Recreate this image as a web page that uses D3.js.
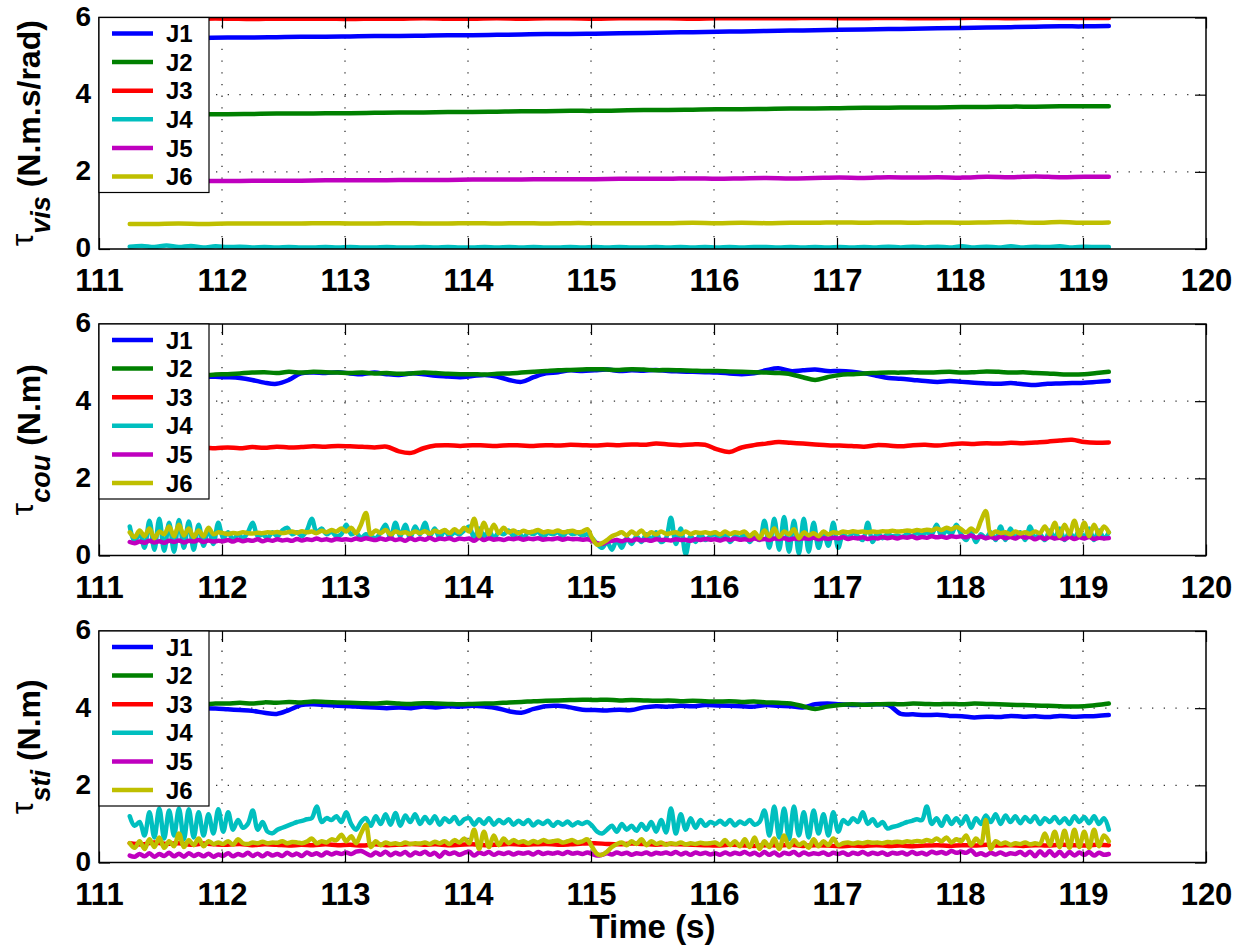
<!DOCTYPE html>
<html lang="en">
<head>
<meta charset="UTF-8">
<title>Friction parameters J1-J6</title>
<script src="https://cdn.jsdelivr.net/npm/d3@7"></script>
<style>
  body { margin: 0; background: #fff; }
  svg { display: block; font-family: "Liberation Sans", Arial, Helvetica, sans-serif; }
  .tick text { font-weight: bold; fill: #000; }
  .tick line { stroke: #000; stroke-width: 1.2px; }
  .line { fill: none; stroke-width: 4.5px; stroke-linejoin: round; stroke-linecap: round; }
  .grid { stroke: #333; stroke-width: 1.3px; stroke-dasharray: 1.3,10.4; }
</style>
</head>
<body>
<svg id="chart" width="1256" height="949"></svg>
<script>
// samples run evenly from tStart to tEnd
const tStart = 111.25, tEnd = 119.21;
const xTicks = [111, 112, 113, 114, 115, 116, 117, 118, 119, 120];
const yTicks = [0, 2, 4, 6];
const joints = ["J1", "J2", "J3", "J4", "J5", "J6"];
const colors = ["#0000ff", "#008000", "#ff0000", "#00bfbf", "#bf00bf", "#bfbf00"];

// ---- viscous friction (N.m.s/rad)
const visJ1 = [5.45,5.46,5.46,5.47,5.48,5.48,5.49,5.50,5.50,5.51,5.52,5.52,5.53,5.54,5.54,5.55,5.56,5.57,5.57,5.58,5.59,5.60,5.61,5.62,5.63,5.64,5.65,5.66,5.67,5.68,5.69,5.70,5.71,5.72,5.73,5.74,5.75,5.76,5.77,5.77,5.78];
const visJ2 = [3.47,3.48,3.48,3.49,3.49,3.50,3.51,3.51,3.52,3.52,3.53,3.54,3.54,3.55,3.55,3.56,3.57,3.57,3.58,3.58,3.59,3.60,3.60,3.61,3.62,3.62,3.63,3.64,3.64,3.65,3.66,3.66,3.67,3.67,3.68,3.68,3.69,3.69,3.70,3.70,3.70];
const visJ3 = [5.96,5.97,5.96,5.97,5.97,5.96,5.97,5.97,5.97,5.96,5.97,5.97,5.98,5.97,5.97,5.98,5.97,5.98,5.98,5.97,5.98,5.98,5.98,5.97,5.98,5.98,5.98,5.98,5.99,5.98,5.98,5.99,5.98,5.98,5.99,5.99,5.98,5.99,5.99,5.99,5.99];
const visJ4 = [0.06,0.08,0.05,0.09,0.05,0.08,0.04,0.07,0.05,0.06,0.04,0.05,0.04,0.05,0.04,0.04,0.05,0.04,0.05,0.04,
  0.04,0.05,0.04,0.04,0.05,0.04,0.05,0.04,0.04,0.05,0.04,0.05,0.04,0.05,0.04,0.04,0.05,0.04,0.05,0.04,
  0.05,0.04,0.04,0.05,0.04,0.05,0.04,0.05,0.04,0.05,0.04,0.05,0.05,0.04,0.05,0.04,0.05,0.04,0.05,0.04,
  0.05,0.04,0.06,0.04,0.06,0.04,0.06,0.04,0.07,0.04,0.06,0.04,0.07,0.04,0.06,0.05,0.07,0.04,0.06,0.05,0.05];
const visJ5 = [1.75,1.76,1.75,1.76,1.76,1.77,1.77,1.77,1.78,1.78,1.78,1.79,1.79,1.79,1.80,1.80,1.80,1.81,1.81,1.81,1.82,1.82,1.82,1.83,1.82,1.83,1.84,1.83,1.84,1.85,1.84,1.86,1.85,1.86,1.85,1.87,1.86,1.88,1.86,1.87,1.87];
const visJ6 = [0.65,0.65,0.66,0.65,0.66,0.66,0.66,0.66,0.67,0.66,0.66,0.67,0.66,0.66,0.67,0.66,0.67,0.66,0.67,0.67,0.67,0.67,0.67,0.68,0.67,0.68,0.67,0.68,0.68,0.69,0.68,0.69,0.68,0.69,0.68,0.69,0.70,0.68,0.70,0.68,0.69];

// ---- coulomb friction (N.m)
const couJ1 = [4.65,4.66,4.64,4.65,4.63,4.62,4.64,4.63,
  4.62,4.60,4.55,4.48,4.45,4.55,4.72,4.74,4.73,4.75,
  4.72,4.70,4.74,4.70,4.68,4.72,4.70,4.66,4.64,4.62,
  4.65,4.68,4.64,4.55,4.50,4.62,4.72,4.75,4.80,4.78,
  4.80,4.82,4.78,4.80,4.79,4.81,4.78,4.77,4.76,4.75,
  4.74,4.72,4.70,4.72,4.80,4.85,4.78,4.80,4.82,4.78,
  4.78,4.76,4.72,4.66,4.60,4.58,4.55,4.52,4.50,4.52,
  4.50,4.48,4.46,4.45,4.47,4.44,4.42,4.45,4.46,4.47,
  4.48,4.50,4.52];
const couJ2 = [4.62,4.64,4.65,4.66,4.66,4.68,4.67,4.69,
  4.70,4.72,4.74,4.75,4.73,4.76,4.74,4.76,4.75,4.74,
  4.73,4.74,4.72,4.73,4.71,4.72,4.74,4.73,4.71,4.70,
  4.70,4.69,4.71,4.72,4.74,4.76,4.78,4.80,4.81,4.82,
  4.83,4.82,4.81,4.83,4.82,4.80,4.81,4.80,4.79,4.78,
  4.78,4.77,4.76,4.75,4.74,4.73,4.70,4.62,4.55,4.62,
  4.68,4.70,4.72,4.73,4.74,4.74,4.75,4.74,4.75,4.76,
  4.74,4.75,4.77,4.76,4.74,4.75,4.73,4.72,4.70,4.69,
  4.70,4.73,4.76];
const couJ3 = [2.72,2.75,2.77,2.76,2.78,2.76,2.79,2.78,
  2.80,2.78,2.81,2.79,2.82,2.80,2.81,2.83,2.82,2.84,
  2.83,2.82,2.80,2.82,2.70,2.66,2.78,2.85,2.86,2.84,
  2.86,2.85,2.84,2.86,2.85,2.84,2.86,2.85,2.87,2.86,
  2.85,2.87,2.86,2.88,2.87,2.90,2.88,2.86,2.88,2.87,
  2.75,2.68,2.80,2.86,2.90,2.94,2.92,2.90,2.88,2.86,
  2.85,2.84,2.82,2.86,2.85,2.83,2.86,2.87,2.85,2.88,
  2.90,2.89,2.91,2.90,2.92,2.91,2.93,2.95,2.98,3.00,
  2.94,2.92,2.93];
const couJ4 = [0.75,0.35,0.60,0.20,0.90,0.15,0.95,0.12,0.85,0.10,0.92,0.20,0.88,0.15,0.80,0.25,0.70,0.30,0.85,
  0.45,0.60,0.40,0.55,0.45,0.60,0.85,0.50,0.55,0.45,0.60,0.50,0.65,0.72,0.55,0.60,0.50,0.65,0.95,0.60,0.70,0.55,0.62,0.50,0.55,
  0.80,0.55,0.60,0.45,0.55,0.50,0.45,0.60,0.80,0.45,0.85,0.50,0.80,0.45,0.75,0.55,0.85,0.50,0.70,0.45,0.65,0.50,0.60,0.55,0.65,
  0.75,0.45,0.70,0.50,0.65,0.45,0.60,0.55,0.65,0.50,0.60,0.45,0.60,0.55,0.62,0.48,0.58,0.55,0.60,0.50,0.62,0.55,0.58,0.52,0.55,
  0.45,0.30,0.20,0.35,0.15,0.40,0.20,0.45,0.30,0.50,0.35,0.55,0.40,0.60,0.35,0.45,0.98,0.30,0.70,0.03,0.50,0.35,0.55,0.40,0.50,
  0.55,0.40,0.60,0.35,0.50,0.45,0.55,0.35,0.50,0.40,0.90,0.20,0.95,0.15,1.00,0.10,0.90,0.05,0.95,0.10,0.85,0.20,0.60,0.25,0.85,
  0.20,0.55,0.45,0.60,0.50,0.40,0.85,0.35,0.60,0.45,0.55,0.50,0.52,0.48,0.55,0.50,0.58,0.52,0.60,0.55,0.80,0.50,0.65,0.55,0.80,
  0.55,0.40,0.60,0.35,0.55,0.45,0.60,0.40,0.75,0.40,0.70,0.45,0.60,0.40,0.75,0.45,0.55,0.40,0.65,0.45,0.70,0.40,0.60,0.45,0.65,
  0.45,0.70,0.40,0.65,0.45,0.60];
const couJ5 = [0.35,0.32,0.36,0.33,0.38,0.34,0.37,0.33,0.38,0.35,0.39,0.34,0.38,0.36,0.40,0.35,0.39,0.36,0.38,
  0.37,0.40,0.36,0.41,0.37,0.40,0.38,0.42,0.37,0.41,0.38,0.42,0.39,0.41,0.38,0.43,0.39,0.42,0.40,0.44,0.40,0.42,0.39,0.43,0.41,
  0.42,0.40,0.44,0.41,0.45,0.42,0.40,0.44,0.41,0.45,0.40,0.43,0.38,0.45,0.40,0.44,0.41,0.46,0.40,0.44,0.42,0.45,0.40,0.44,0.42,
  0.44,0.38,0.46,0.40,0.45,0.41,0.43,0.40,0.44,0.42,0.45,0.41,0.44,0.42,0.45,0.41,0.43,0.42,0.45,0.41,0.44,0.42,0.43,0.41,0.42,
  0.38,0.32,0.30,0.35,0.38,0.40,0.37,0.41,0.38,0.42,0.39,0.41,0.38,0.42,0.40,0.41,0.39,0.42,0.40,0.41,0.38,0.42,0.40,0.43,0.41,
  0.42,0.39,0.43,0.40,0.44,0.41,0.42,0.40,0.44,0.41,0.43,0.40,0.44,0.42,0.45,0.41,0.44,0.42,0.45,0.43,0.46,0.42,0.45,0.43,0.46,
  0.44,0.47,0.43,0.46,0.44,0.47,0.43,0.46,0.44,0.48,0.45,0.47,0.44,0.48,0.46,0.49,0.45,0.48,0.46,0.50,0.47,0.49,0.46,0.50,0.48,
  0.50,0.47,0.52,0.46,0.49,0.45,0.48,0.44,0.49,0.45,0.48,0.44,0.50,0.46,0.48,0.42,0.47,0.43,0.48,0.44,0.46,0.42,0.48,0.43,0.47,
  0.44,0.48,0.43,0.46,0.44,0.45];
const couJ6 = [0.60,0.48,0.65,0.50,0.70,0.45,0.62,0.55,0.75,0.50,0.80,0.52,0.70,0.48,0.65,0.50,0.72,0.55,0.60,
  0.58,0.56,0.58,0.57,0.60,0.58,0.57,0.59,0.58,0.60,0.59,0.61,0.58,0.60,0.62,0.59,0.63,0.60,0.62,0.58,0.64,0.60,0.66,0.62,0.70,
  0.62,0.72,0.58,0.80,1.10,0.55,0.65,0.58,0.66,0.55,0.62,0.58,0.60,0.56,0.62,0.58,0.63,0.57,0.64,0.60,0.66,0.58,0.68,0.60,0.72,
  0.62,0.95,0.50,0.85,0.55,0.80,0.58,0.72,0.60,0.65,0.58,0.64,0.60,0.62,0.66,0.60,0.63,0.61,0.65,0.60,0.62,0.64,0.60,0.62,0.68,
  0.45,0.28,0.32,0.40,0.50,0.55,0.60,0.52,0.62,0.55,0.65,0.52,0.60,0.55,0.62,0.56,0.58,0.60,0.55,0.62,0.56,0.60,0.58,0.60,0.57,
  0.60,0.55,0.62,0.56,0.60,0.58,0.62,0.50,0.60,0.45,0.65,0.50,0.70,0.48,0.62,0.55,0.68,0.45,0.60,0.52,0.58,0.50,0.62,0.55,0.60,
  0.58,0.62,0.60,0.63,0.61,0.62,0.60,0.62,0.61,0.63,0.62,0.64,0.62,0.63,0.65,0.63,0.66,0.64,0.67,0.65,0.70,0.66,0.72,0.68,0.74,
  0.68,0.60,0.70,0.62,0.90,1.15,0.55,0.62,0.58,0.60,0.55,0.62,0.57,0.60,0.56,0.62,0.58,0.75,0.55,0.85,0.50,0.80,0.55,0.90,0.52,
  0.85,0.50,0.80,0.55,0.75,0.60];

// ---- stiction (N.m)
const stiJ1 = [4.02,4.00,4.01,3.99,4.00,3.98,4.00,3.99,
  3.97,3.95,3.93,3.88,3.85,3.95,4.08,4.10,4.08,4.06,
  4.05,4.03,4.02,4.00,4.02,4.00,4.04,4.02,4.05,4.04,
  4.06,4.04,4.00,3.92,3.88,3.98,4.05,4.06,4.02,3.96,
  3.95,3.94,3.96,3.95,4.02,4.05,4.04,4.06,4.05,4.08,
  4.07,4.06,4.05,4.04,4.08,4.06,4.05,4.02,4.10,4.12,
  4.10,4.08,4.09,4.10,4.08,3.85,3.84,3.82,3.83,3.80,
  3.79,3.76,3.78,3.77,3.80,3.78,3.79,3.77,3.80,3.78,
  3.79,3.80,3.82];
const stiJ2 = [4.05,4.06,4.08,4.10,4.08,4.11,4.10,4.12,
  4.12,4.14,4.12,4.15,4.14,4.16,4.15,4.17,4.16,4.15,
  4.14,4.13,4.12,4.14,4.12,4.11,4.13,4.12,4.11,4.10,
  4.11,4.12,4.13,4.15,4.16,4.18,4.19,4.20,4.21,4.22,
  4.21,4.22,4.20,4.21,4.20,4.19,4.20,4.18,4.19,4.18,
  4.17,4.18,4.16,4.17,4.15,4.14,4.12,4.05,3.98,4.04,
  4.08,4.10,4.09,4.10,4.11,4.10,4.12,4.11,4.10,4.11,
  4.10,4.12,4.11,4.10,4.09,4.08,4.07,4.06,4.05,4.04,
  4.05,4.08,4.12];
const stiJ3 = [0.50,0.47,0.52,0.48,0.50,0.46,0.49,0.47,
  0.46,0.48,0.45,0.47,0.46,0.44,0.46,0.45,0.47,0.45,
  0.46,0.44,0.47,0.45,0.46,0.48,0.46,0.47,0.45,0.46,
  0.47,0.45,0.46,0.48,0.46,0.47,0.48,0.46,0.47,0.49,
  0.50,0.48,0.47,0.49,0.48,0.46,0.48,0.47,0.46,0.45,
  0.44,0.46,0.45,0.43,0.45,0.44,0.46,0.43,0.45,0.44,
  0.42,0.44,0.43,0.45,0.43,0.44,0.42,0.44,0.45,0.43,
  0.45,0.44,0.46,0.44,0.45,0.43,0.45,0.44,0.46,0.45,
  0.44,0.46,0.45];
const stiJ4 = [1.20,0.95,1.05,0.70,1.30,0.65,1.40,0.62,1.35,0.70,1.40,0.60,1.38,0.65,1.30,0.70,1.25,0.75,1.38,
  0.80,1.30,0.85,1.10,0.90,1.00,1.35,0.85,1.05,0.80,0.76,0.85,0.90,0.95,1.00,1.05,1.08,1.12,1.15,1.45,1.05,1.15,1.10,1.20,1.05,
  1.30,1.00,0.85,1.05,1.15,0.95,1.20,1.00,1.25,0.98,1.28,0.95,1.22,1.05,1.25,1.00,1.18,1.02,1.20,0.98,1.15,1.05,1.18,1.00,1.12,
  1.15,0.98,1.12,1.00,1.15,0.98,1.10,1.02,1.12,0.98,1.08,1.00,1.10,0.96,1.06,1.00,1.08,0.95,1.05,0.98,1.06,0.96,1.04,1.00,1.05,
  0.95,0.80,0.75,0.85,0.95,0.80,1.00,0.85,0.95,0.82,1.00,0.85,1.05,0.80,1.10,0.78,1.40,0.75,1.25,0.85,1.15,0.90,1.10,0.95,1.05,
  1.00,1.08,0.98,1.10,0.96,1.06,1.00,1.10,0.98,1.05,1.35,0.70,1.45,0.65,1.40,0.60,1.45,0.70,1.30,0.65,1.35,0.75,1.25,0.70,1.30,
  0.80,1.10,1.00,1.15,1.05,1.30,1.00,1.12,0.95,1.05,0.88,0.92,0.95,1.00,1.05,1.08,1.12,1.10,1.45,1.00,1.15,0.95,1.20,1.00,1.15,
  1.00,1.20,0.90,1.15,1.00,1.22,1.05,1.25,1.00,1.22,1.05,1.20,1.02,1.18,1.05,1.20,1.00,1.15,1.05,1.18,1.02,1.15,1.00,1.20,1.05,
  1.18,1.02,1.20,1.00,1.15,0.85];
const stiJ5 = [0.18,0.15,0.22,0.16,0.24,0.15,0.22,0.17,0.25,0.16,0.23,0.15,0.24,0.17,0.22,0.16,0.23,0.15,0.21,
  0.17,0.24,0.16,0.22,0.18,0.25,0.17,0.23,0.16,0.24,0.18,0.22,0.17,0.25,0.19,0.23,0.17,0.26,0.20,0.24,0.18,0.26,0.21,0.25,0.22,
  0.26,0.22,0.28,0.30,0.24,0.18,0.26,0.20,0.28,0.19,0.25,0.21,0.27,0.18,0.26,0.22,0.28,0.20,0.25,0.15,0.27,0.22,0.26,0.20,0.25,
  0.28,0.18,0.26,0.22,0.27,0.20,0.25,0.22,0.26,0.21,0.25,0.23,0.26,0.21,0.27,0.22,0.25,0.23,0.26,0.22,0.27,0.23,0.25,0.22,0.26,
  0.22,0.18,0.20,0.24,0.21,0.26,0.22,0.25,0.20,0.24,0.22,0.26,0.21,0.25,0.23,0.26,0.22,0.27,0.21,0.25,0.20,0.26,0.22,0.25,0.21,
  0.24,0.20,0.26,0.21,0.25,0.22,0.27,0.21,0.25,0.19,0.27,0.20,0.26,0.18,0.25,0.22,0.27,0.19,0.26,0.21,0.24,0.22,0.26,0.20,0.25,
  0.22,0.26,0.20,0.25,0.22,0.27,0.21,0.25,0.22,0.26,0.20,0.25,0.23,0.26,0.21,0.27,0.22,0.25,0.21,0.28,0.24,0.27,0.23,0.30,0.25,
  0.28,0.25,0.32,0.20,0.24,0.19,0.25,0.21,0.26,0.20,0.24,0.22,0.27,0.19,0.28,0.16,0.29,0.18,0.30,0.17,0.28,0.16,0.27,0.18,0.26,
  0.20,0.27,0.18,0.25,0.20,0.22];
const stiJ6 = [0.50,0.38,0.55,0.35,0.60,0.40,0.65,0.38,0.55,0.42,0.75,0.40,0.58,0.45,0.62,0.42,0.55,0.48,0.52,
  0.48,0.55,0.46,0.60,0.50,0.48,0.52,0.50,0.54,0.50,0.52,0.51,0.55,0.50,0.53,0.52,0.50,0.54,0.62,0.50,0.55,0.52,0.60,0.58,0.72,
  0.55,0.68,0.50,0.75,0.98,0.40,0.55,0.45,0.52,0.48,0.50,0.47,0.52,0.48,0.50,0.49,0.52,0.48,0.54,0.50,0.55,0.48,0.58,0.52,0.62,
  0.50,0.85,0.35,0.80,0.40,0.70,0.45,0.62,0.50,0.58,0.52,0.55,0.50,0.56,0.52,0.58,0.54,0.55,0.57,0.52,0.55,0.58,0.52,0.55,0.60,
  0.40,0.22,0.20,0.28,0.40,0.48,0.52,0.45,0.55,0.48,0.60,0.45,0.55,0.48,0.52,0.46,0.50,0.48,0.52,0.47,0.50,0.48,0.51,0.49,0.50,
  0.52,0.46,0.58,0.45,0.55,0.42,0.60,0.40,0.65,0.35,0.55,0.40,0.62,0.35,0.70,0.40,0.58,0.45,0.52,0.38,0.60,0.42,0.55,0.45,0.62,
  0.45,0.50,0.52,0.49,0.52,0.50,0.53,0.51,0.52,0.50,0.53,0.52,0.54,0.52,0.55,0.53,0.56,0.54,0.58,0.55,0.62,0.55,0.65,0.52,0.60,
  0.55,0.70,0.45,0.62,0.50,1.10,0.35,0.55,0.48,0.52,0.46,0.50,0.48,0.52,0.47,0.50,0.48,0.75,0.45,0.80,0.40,0.82,0.38,0.85,0.40,
  0.80,0.38,0.85,0.42,0.70,0.55];

const panels = [
  { top: 17.5, sub: "vis", unit: " (N.m.s/rad)", series: [visJ1, visJ2, visJ3, visJ4, visJ5, visJ6] },
  { top: 324,  sub: "cou", unit: " (N.m)",       series: [couJ1, couJ2, couJ3, couJ4, couJ5, couJ6] },
  { top: 631,  sub: "sti", unit: " (N.m)",       series: [stiJ1, stiJ2, stiJ3, stiJ4, stiJ5, stiJ6] }
];

const left = 99, right = 1206, ph = 231.5, tick = 11;
const svg = d3.select("#chart");
const x = d3.scaleLinear().domain([111, 120]).range([left, right]);

panels.forEach((p, k) => {
    const y = d3.scaleLinear().domain([0, 6]).range([p.top + ph, p.top]);
    const g = svg.append("g").attr("class", "panel");

    g.append("clipPath").attr("id", "clip" + k)
      .append("rect").attr("x", left).attr("y", p.top).attr("width", right - left).attr("height", ph);

    // dotted grid
    g.append("g").selectAll("line").data(xTicks.slice(1, -1)).join("line")
      .attr("class", "grid")
      .attr("x1", d => x(d)).attr("x2", d => x(d))
      .attr("y1", p.top + ph).attr("y2", p.top);
    g.append("g").selectAll("line").data(yTicks.slice(1, -1)).join("line")
      .attr("class", "grid")
      .attr("x1", left).attr("x2", right)
      .attr("y1", d => y(d)).attr("y2", d => y(d));

    // series
    const line = d3.line().curve(d3.curveCatmullRom).x(d => x(d[0])).y(d => y(d[1]));
    p.series.forEach((vals, j) => {
        const step = (tEnd - tStart) / (vals.length - 1);
        g.append("path")
          .attr("class", "line")
          .attr("clip-path", `url(#clip${k})`)
          .attr("stroke", colors[j])
          .attr("d", line(vals.map((v, i) => [tStart + i * step, v])));
    });

    // axes, ticks pointing inward on all four sides
    g.append("g").attr("transform", `translate(0,${p.top + ph})`)
      .call(d3.axisBottom(x).tickValues(xTicks).tickSizeInner(-tick).tickSizeOuter(0).tickPadding(20).tickFormat(d3.format("d")))
      .call(a => a.select(".domain").remove())
      .call(a => a.selectAll("text").style("font-size", "31px"));
    g.append("g").attr("transform", `translate(0,${p.top})`)
      .call(d3.axisTop(x).tickValues(xTicks).tickSizeInner(-tick).tickSizeOuter(0).tickFormat(""))
      .call(a => a.select(".domain").remove());
    g.append("g").attr("transform", `translate(${left},0)`)
      .call(d3.axisLeft(y).tickValues(yTicks).tickSizeInner(-tick).tickSizeOuter(0).tickPadding(8).tickFormat(d3.format("d")))
      .call(a => a.select(".domain").remove())
      .call(a => a.selectAll("text").style("font-size", "28px").attr("dy", "0.28em"));
    g.append("g").attr("transform", `translate(${right},0)`)
      .call(d3.axisRight(y).tickValues(yTicks).tickSizeInner(-tick).tickSizeOuter(0).tickFormat(""))
      .call(a => a.select(".domain").remove());

    g.append("rect")
      .attr("x", left).attr("y", p.top).attr("width", right - left).attr("height", ph)
      .attr("fill", "none").attr("stroke", "#000").attr("stroke-width", 1.5);

    // y label: tau with bold italic subscript
    const lab = g.append("text")
      .attr("transform", `translate(43,${p.top + ph / 2}) rotate(-90)`)
      .attr("text-anchor", "middle")
      .style("font-size", "32px");
    lab.append("tspan").attr("dy", "-0.3em").style("font-weight", "normal").text("τ");
    lab.append("tspan").attr("dy", "0.6em").style("font-weight", "bold").style("font-style", "italic").style("font-size", "27px").text(p.sub);
    lab.append("tspan").attr("dy", "-0.3em").style("font-weight", "bold").text(p.unit);

    // legend
    const leg = g.append("g").attr("transform", `translate(${left},${p.top})`);
    leg.append("rect").attr("width", 110).attr("height", 175)
      .attr("fill", "#fff").attr("stroke", "#000").attr("stroke-width", 1.2);
    joints.forEach((name, j) => {
        const ly = 16 + j * 28.6;
        leg.append("line").attr("x1", 13).attr("x2", 54).attr("y1", ly).attr("y2", ly)
          .attr("stroke", colors[j]).attr("stroke-width", 4.5);
        leg.append("text").attr("x", 67).attr("y", ly).attr("dy", "0.36em")
          .style("font-size", "24px").style("font-weight", "bold").text(name);
    });
});

svg.append("text")
  .attr("x", (left + right) / 2).attr("y", 938)
  .attr("text-anchor", "middle")
  .style("font-size", "33px").style("font-weight", "bold")
  .text("Time (s)");
</script>
</body>
</html>
